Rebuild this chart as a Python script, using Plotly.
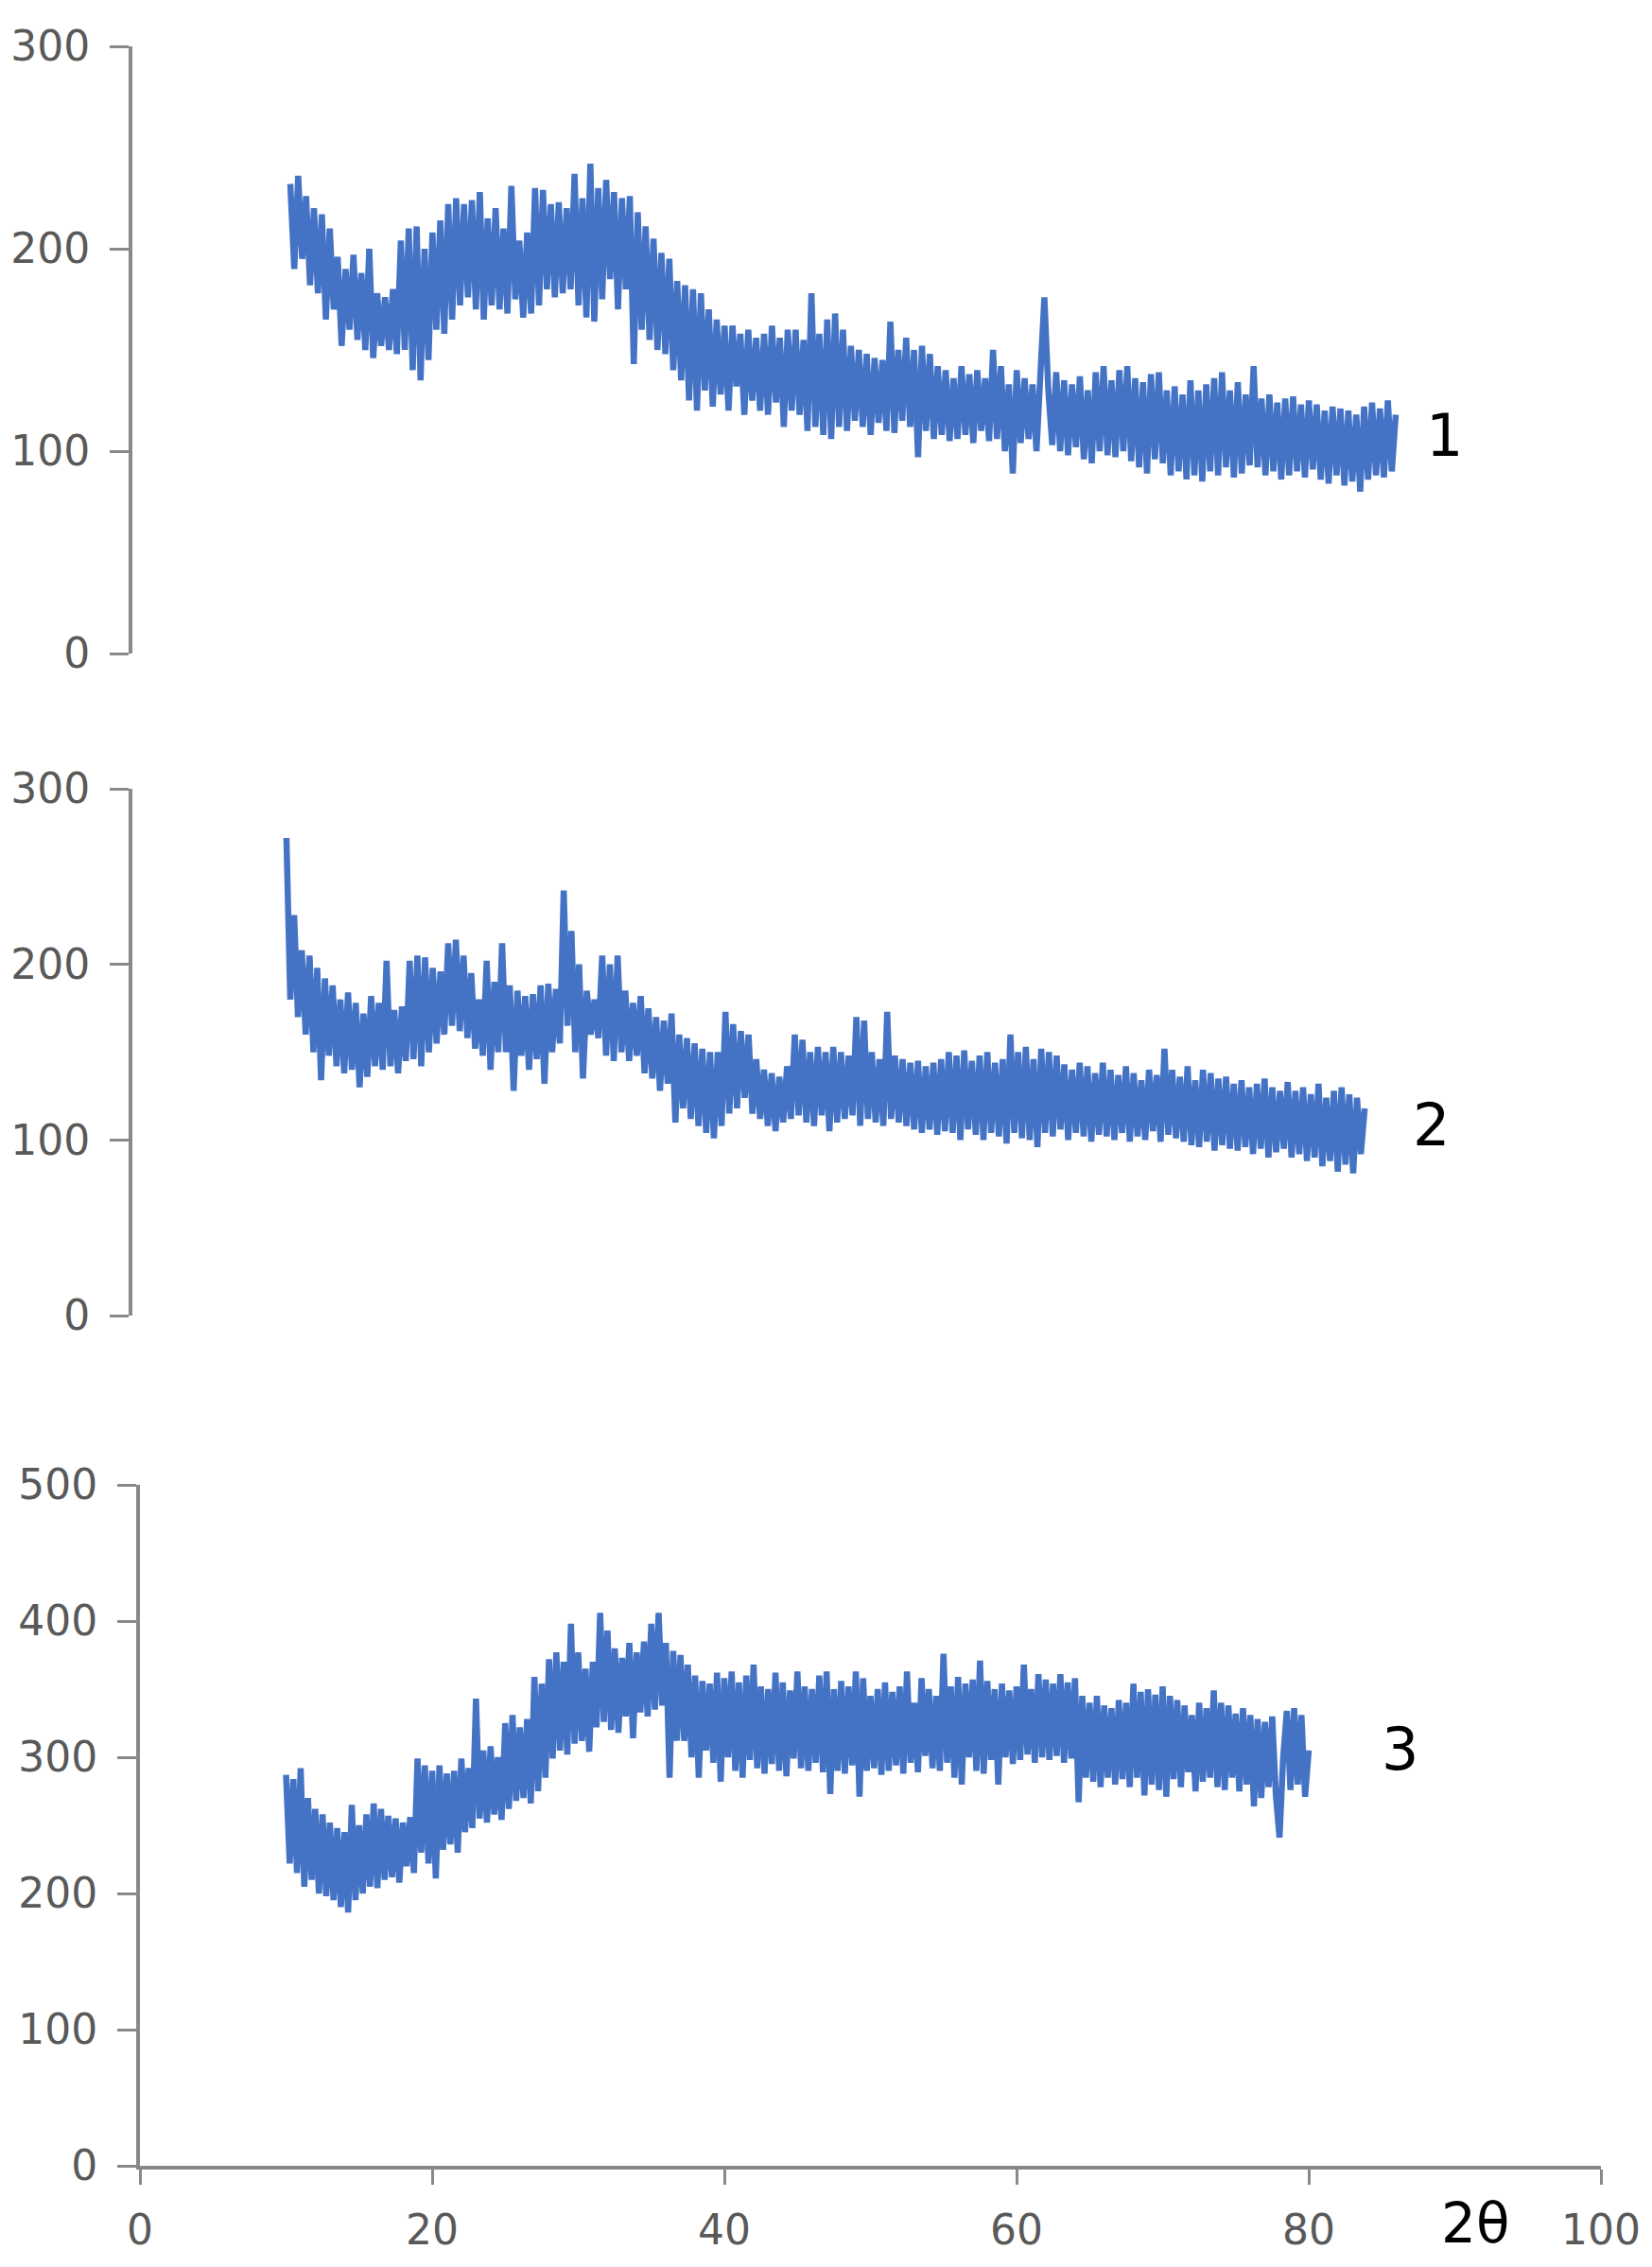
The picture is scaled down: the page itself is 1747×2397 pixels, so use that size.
import plotly.graph_objects as go

# 2-theta sampling of the three patterns
x_start = 10.0
x_step = 0.25

# Pattern 1 intensities (10 .. 80 deg, step 0.25)
s1 = [
    232, 190, 236, 195, 226, 182, 220, 178, 217, 165, 210, 170, 196, 152, 190, 160,
    197, 155, 188, 150, 200, 146, 178, 152, 176, 150, 180, 148, 204, 150, 210, 140,
    211, 135, 200, 145, 208, 160, 214, 158, 222, 165, 225, 172, 222, 176, 224, 170,
    228, 165, 215, 172, 220, 170, 210, 168, 231, 175, 204, 166, 208, 168, 230, 172,
    229, 180, 222, 176, 223, 178, 220, 180, 237, 172, 225, 166, 242, 164, 230, 175,
    234, 185, 228, 170, 225, 180, 226, 143, 218, 160, 211, 155, 205, 150, 198, 148,
    195, 140, 184, 135, 182, 125, 180, 120, 178, 130, 170, 122, 165, 128, 162, 120,
    162, 132, 158, 118, 160, 125, 156, 120, 158, 118, 162, 124, 156, 112, 160, 120,
    160, 118, 155, 110, 178, 112, 158, 108, 165, 106, 168, 112, 160, 110, 152, 115,
    150, 112, 148, 108, 146, 114, 145, 110, 164, 109, 150, 115, 156, 112, 150, 97,
    152, 110, 148, 106, 142, 108, 140, 105, 136, 106, 142, 108, 138, 104, 140, 110,
    136, 105, 150, 106, 142, 100, 133, 89, 140, 104, 136, 106, 133, 100, 138, 176,
    130, 103, 139, 100, 135, 98, 133, 102, 137, 96, 130, 94, 139, 100, 142, 98,
    135, 97, 140, 100, 142, 95, 136, 92, 134, 89, 138, 96, 139, 94, 130, 88,
    132, 90, 128, 86, 135, 88, 130, 85, 133, 90, 136, 88, 139, 92, 130, 87,
    134, 89, 128, 93, 142, 92, 126, 88, 128, 90, 124, 86, 126, 88, 127, 90,
    123, 87, 125, 91, 123, 86, 120, 84, 122, 88, 121, 83, 120, 85, 118, 80,
    122, 86, 124, 88, 121, 87, 125, 90, 118,
]

# Pattern 2 intensities
s2 = [
    272, 180, 228, 170, 208, 160, 205, 150, 198, 134, 192, 148, 188, 142, 180, 138,
    184, 140, 178, 130, 172, 136, 182, 142, 178, 140, 202, 142, 174, 138, 176, 145,
    202, 146, 205, 142, 204, 150, 198, 155, 196, 160, 212, 165, 214, 162, 205, 158,
    195, 152, 180, 148, 202, 140, 190, 150, 212, 150, 188, 128, 185, 148, 182, 140,
    183, 146, 188, 132, 189, 150, 186, 155, 242, 165, 219, 150, 200, 135, 185, 160,
    180, 158, 205, 148, 200, 145, 205, 150, 185, 145, 178, 148, 182, 138, 175, 135,
    170, 128, 168, 132, 172, 110, 160, 118, 158, 112, 155, 108, 152, 104, 150, 101,
    150, 108, 173, 115, 166, 118, 162, 124, 160, 115, 146, 112, 140, 108, 138, 105,
    136, 110, 142, 112, 160, 114, 157, 110, 150, 108, 153, 114, 150, 105, 153, 110,
    150, 112, 148, 114, 170, 108, 168, 112, 150, 110, 146, 108, 173, 112, 148, 110,
    146, 108, 144, 106, 145, 104, 142, 106, 144, 103, 146, 105, 150, 104, 148, 100,
    151, 106, 145, 103, 148, 100, 150, 104, 144, 102, 146, 98, 160, 104, 150, 101,
    153, 100, 146, 96, 152, 104, 150, 102, 148, 106, 143, 100, 140, 104, 144, 102,
    142, 99, 138, 103, 144, 102, 140, 100, 137, 104, 142, 99, 138, 102, 134, 100,
    140, 105, 137, 99, 152, 103, 140, 101, 136, 99, 142, 97, 134, 96, 140, 99,
    138, 94, 135, 97, 136, 95, 132, 94, 134, 96, 130, 92, 132, 95, 135, 90,
    130, 93, 128, 95, 133, 90, 128, 92, 130, 88, 126, 90, 132, 85, 124, 88,
    128, 82, 130, 86, 126, 81, 124, 92, 118,
]

# Pattern 3 intensities
s3 = [
    287, 222, 284, 215, 292, 205, 270, 210, 262, 200, 258, 198, 252, 195, 248, 190,
    245, 186, 265, 195, 250, 200, 258, 205, 266, 204, 262, 210, 257, 212, 255, 208,
    252, 220, 256, 215, 299, 230, 294, 222, 290, 211, 294, 232, 288, 236, 290, 230,
    299, 245, 292, 248, 343, 255, 305, 252, 308, 258, 300, 254, 325, 262, 331, 268,
    322, 270, 328, 266, 359, 275, 354, 285, 372, 299, 377, 305, 370, 302, 398, 310,
    377, 312, 365, 304, 370, 322, 406, 326, 393, 320, 380, 318, 373, 330, 384, 314,
    377, 333, 385, 330, 398, 335, 406, 338, 384, 285, 378, 312, 375, 312, 368, 300,
    360, 285, 356, 305, 354, 296, 362, 282, 358, 300, 363, 290, 355, 285, 360, 298,
    368, 292, 352, 288, 350, 295, 362, 290, 355, 286, 349, 299, 363, 292, 352, 290,
    350, 296, 360, 289, 363, 273, 350, 290, 356, 288, 352, 294, 363, 271, 358, 290,
    345, 292, 350, 287, 355, 290, 348, 294, 352, 288, 363, 296, 340, 289, 358, 301,
    350, 292, 345, 290, 376, 296, 352, 285, 359, 280, 354, 300, 357, 290, 371, 288,
    356, 298, 350, 280, 354, 300, 349, 295, 352, 298, 368, 302, 350, 296, 361, 300,
    357, 298, 354, 301, 361, 296, 355, 299, 358, 267, 345, 285, 340, 282, 345, 278,
    338, 285, 336, 280, 342, 284, 340, 278, 354, 285, 348, 272, 350, 280, 346, 276,
    352, 271, 345, 284, 342, 278, 338, 289, 331, 275, 340, 282, 336, 285, 349, 278,
    340, 276, 338, 285, 332, 275, 336, 280, 331, 264, 328, 270, 326, 278, 330, 272,
    241, 300, 334, 276, 336, 280, 331, 271, 305,
]

panel_labels = ["1", "2", "3"]
x_title = "2θ"
y_ticks_12 = [0, 100, 200, 300]
y_ticks_3 = [0, 100, 200, 300, 400, 500]
x_ticks_3 = [0, 20, 40, 60, 80, 100]


def grid(values):
    return [x_start + i * x_step for i in range(len(values))]


W, H = 1747, 2397
LINE = "#4472C4"
AXC = "#898989"
TXT = "#595959"
FONT = "DejaVu Sans"
TICK_SIZE = 44

fig = go.Figure()
for i, s in enumerate([s1, s2, s3], start=1):
    fig.add_trace(go.Scatter(
        x=grid(s), y=s, mode="lines",
        line=dict(color=LINE, width=6.5),
        xaxis="x" if i == 1 else f"x{i}",
        yaxis="y" if i == 1 else f"y{i}",
        showlegend=False, hoverinfo="skip",
    ))


def px_x(p):
    return p / W


def px_y(p):
    return 1 - p / H


yax_common = dict(
    showline=True, linewidth=4, linecolor=AXC,
    ticks="outside", ticklen=20, tickwidth=3, tickcolor=AXC,
    showgrid=False, zeroline=False, automargin=False,
    tickfont=dict(family=FONT, size=TICK_SIZE, color=TXT),
    ticklabelstandoff=12,
)

fig.update_layout(
    width=W, height=H,
    margin=dict(l=0, r=0, t=0, b=0, pad=0, autoexpand=False),
    paper_bgcolor="white", plot_bgcolor="white",
    showlegend=False,
    xaxis=dict(domain=[px_x(140), px_x(140 + 90 * 16.7)], range=[0, 90],
               visible=False, anchor="y", automargin=False),
    yaxis=dict(domain=[px_y(691), px_y(49)], range=[0, 300],
               tickvals=y_ticks_12, anchor="x", **yax_common),
    xaxis2=dict(domain=[px_x(140), px_x(140 + 90 * 16.29)], range=[0, 90],
                visible=False, anchor="y2", automargin=False),
    yaxis2=dict(domain=[px_y(1391), px_y(834)], range=[0, 300],
                tickvals=y_ticks_12, anchor="x2", **yax_common),
    xaxis3=dict(domain=[px_x(148), px_x(1693)], range=[0, 100],
                tickvals=x_ticks_3, anchor="y3",
                showline=True, linewidth=4, linecolor=AXC,
                ticks="outside", ticklen=16, tickwidth=3, tickcolor=AXC,
                showgrid=False, zeroline=False, automargin=False,
                tickfont=dict(family=FONT, size=TICK_SIZE, color=TXT),
                ticklabelstandoff=10),
    yaxis3=dict(domain=[px_y(2290), px_y(1570)], range=[0, 500],
                tickvals=y_ticks_3, anchor="x3", **yax_common),
)

label_pos = [(1527, 460), (1513, 1189), (1480, 1849)]
for txt, (lx, ly) in zip(panel_labels, label_pos):
    fig.add_annotation(x=px_x(lx), y=px_y(ly), xref="paper", yref="paper",
                       text=txt, showarrow=False, xanchor="center", yanchor="middle",
                       font=dict(family=FONT, size=62, color="black"))

fig.add_annotation(x=px_x(1560), y=px_y(2351), xref="paper", yref="paper",
                   text=x_title, showarrow=False, xanchor="center", yanchor="middle",
                   font=dict(family=FONT, size=58, color="black"))

fig.write_html("out.html",
               config={"displayModeBar": False},
               post_script="document.body.style.margin='0px';document.body.style.overflow='hidden';")
